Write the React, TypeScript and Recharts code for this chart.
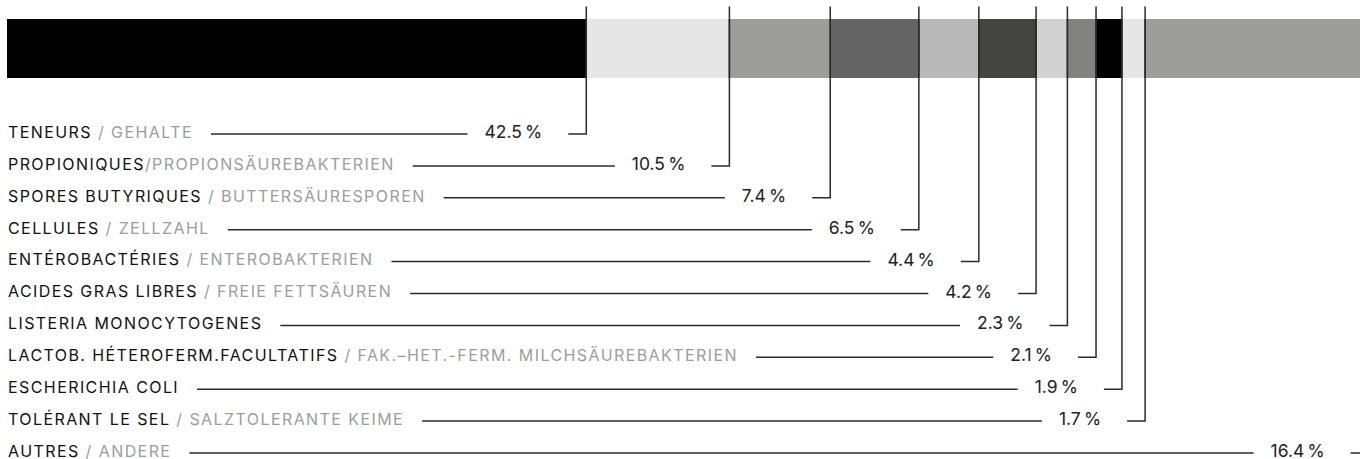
import React from "react";
import { Bar, BarChart, XAxis, YAxis } from "recharts";

const frLabels = [
  "TENEURS",
  "PROPIONIQUES",
  "SPORES BUTYRIQUES",
  "CELLULES",
  "ENTÉROBACTÉRIES",
  "ACIDES GRAS LIBRES",
  "LISTERIA MONOCYTOGENES",
  "LACTOB. HÉTEROFERM.FACULTATIFS",
  "ESCHERICHIA COLI",
  "TOLÉRANT LE SEL",
  "AUTRES",
];
const deLabels = [
  "GEHALTE",
  "PROPIONSÄUREBAKTERIEN",
  "BUTTERSÄURESPOREN",
  "ZELLZAHL",
  "ENTEROBAKTERIEN",
  "FREIE FETTSÄUREN",
  "",
  "FAK.–HET.-FERM. MILCHSÄUREBAKTERIEN",
  "",
  "SALZTOLERANTE KEIME",
  "ANDERE",
];
const shares = [42.5, 10.5, 7.4, 6.5, 4.4, 4.2, 2.3, 2.1, 1.9, 1.7, 16.4];

const COLORS = [
  "#000000", "#e6e6e6", "#9d9d9b", "#646464", "#b8b8b8", "#444442",
  "#d1d1d1", "#828280", "#000000", "#e6e6e6", "#9d9d9b",
];

const row: Record<string, number | string> = { name: "all" };
shares.forEach((v, i) => (row["s" + i] = v));
const data = [row];

const FONT = "Inter, sans-serif";
const LABEL_SIZE = 16;
const LABEL_SPACING = 1.42;
const VALUE_SIZE = 17.5;
const INK = "#2b2b2b";

let ctx: CanvasRenderingContext2D | null = null;
const measure = (s: string, size: number, spacing: number) => {
  if (!ctx) ctx = document.createElement("canvas").getContext("2d");
  if (!ctx) return s.length * size * 0.6;
  ctx.font = `${size}px Inter`;
  return ctx.measureText(s).width + spacing * s.length;
};

const rowY = (i: number) => 134 + 31.9 * i;
const fmt = (v: number) => `${v.toFixed(1)}\u2009%`;

const renderLabel = (i: number) => (props: any) => {
  const x = Number(props.x);
  const y = Number(props.y);
  const w = Number(props.width);
  const h = Number(props.height);
  const end = x + w;
  const ry = rowY(i);
  const sep = i === 1 ? "/" : " / ";
  const fr = frLabels[i];
  const de = deLabels[i];
  const full = de ? fr + sep + de : fr;
  const labelEnd = 8 + measure(full, LABEL_SIZE, LABEL_SPACING);
  const valueText = fmt(shares[i]);
  const valueRight = end - 44;
  const valueStart = valueRight - measure(valueText, VALUE_SIZE, 0);
  return (
    <g>
      {/* boundary line of the previous segment, redrawn over this bar */}
      {i > 0 && (
        <line x1={x} x2={x} y1={y} y2={y + h} stroke={INK} strokeWidth={1.5} />
      )}
      <polyline
        points={`${end - 18},${ry} ${end},${ry} ${end},${y - 12.5}`}
        fill="none"
        stroke={INK}
        strokeWidth={1.5}
      />
      <line x1={labelEnd + 18} x2={valueStart - 17} y1={ry} y2={ry} stroke={INK} strokeWidth={1.5} />
      <text
        x={8}
        y={ry + 3.8}
        fontFamily={FONT}
        fontSize={LABEL_SIZE}
        letterSpacing={LABEL_SPACING}
        fill="#111"
      >
        {fr}
        {de && <tspan fill="#9d9d9d">{sep + de}</tspan>}
      </text>
      <text x={valueRight} y={ry + 4} textAnchor="end" fontFamily={FONT} fontSize={VALUE_SIZE} fill="#222">
        {valueText}
      </text>
    </g>
  );
};

export default function App() {
  return (
    <div
      style={{
        position: "absolute",
        left: 0,
        top: 0,
        width: 1360,
        height: 459,
        overflow: "hidden",
        background: "#fff",
      }}
    >
      <BarChart
        width={1370}
        height={459}
        data={data}
        layout="vertical"
        margin={{ top: 19, right: 0, bottom: 381, left: 7 }}
        barCategoryGap={0}
      >
        <XAxis type="number" domain={[0, 100]} hide />
        <YAxis type="category" dataKey="name" hide />
        {shares.map((_, i) => (
          <Bar
            key={i}
            dataKey={"s" + i}
            stackId="a"
            fill={COLORS[i]}
            isAnimationActive={false}
            label={renderLabel(i)}
          />
        ))}
      </BarChart>
    </div>
  );
}
